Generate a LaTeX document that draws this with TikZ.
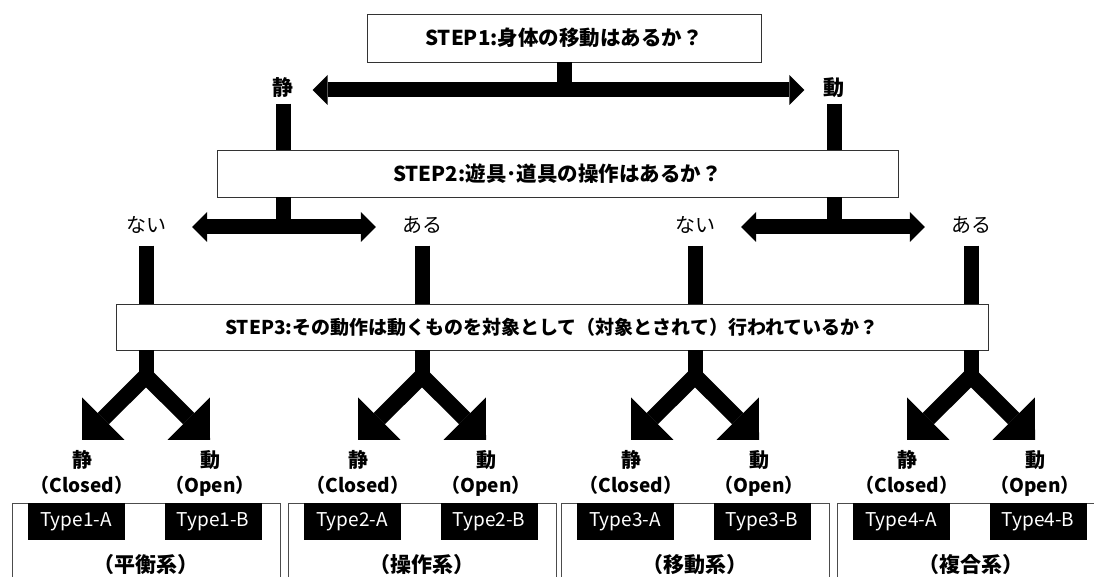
\documentclass[tikz,border=0pt]{standalone}
\usepackage{fontspec}
\setmainfont{Noto Sans CJK JP}
\usepackage{tikz}
\usetikzlibrary{calc}
\usetikzlibrary{arrows.meta}
\newcommand{\jsz}[1][19]{\fontsize{#1}{#1}\selectfont}
\tikzset{
 stepbox/.style={draw=black!80, line width=.8pt, fill=white, inner sep=0pt, font={\jsz[20.5]\bfseries}},
 lab/.style={inner xsep=0pt, inner ysep=4pt, text height=15pt, text depth=4pt, font={\jsz[20]\bfseries}},
 bar/.style={line width=15pt},
 twoway/.style={line width=15pt, {Triangle[width=30pt,length=15pt,line width=0pt]}-{Triangle[width=30pt,length=15pt,line width=0pt]}},
 fork/.style={line width=16pt, -{Triangle[width=60pt,length=30pt,line width=0pt]}},
 sysbox/.style={draw=black!70, line width=.8pt, minimum width=268pt, minimum height=110pt, anchor=north},
 typebox/.style={fill=black, text=white, minimum width=97pt, minimum height=37pt, inner sep=0pt, anchor=north, font=\jsz}
}

\begin{document}
\begin{tikzpicture}[x=1pt, y=-1pt]
\useasboundingbox (0,0) rectangle (1094,577);
\node[stepbox, minimum width=394pt, minimum height=48pt] (step1) at (564,38) {STEP1:身体の移動はあるか？};
\node[stepbox, minimum width=681pt, minimum height=47pt] (step2) at (557.5,173.5) {STEP2:遊具･道具の操作はあるか？};
\node[stepbox, minimum width=872pt, minimum height=46pt, font={\jsz[19]\bfseries}] (step3) at (552,327) {STEP3:その動作は動くものを対象として（対象とされて）行われているか？};
\node[lab, font={\jsz[21]\bfseries}, inner xsep=19pt] (sei) at (283,90) {静};
\node[lab, font={\jsz[21]\bfseries}, inner xsep=19pt] (dou) at (834,90) {動};
\draw[bar] (step1.south) -- (step1.south |- sei);
\draw[twoway] (sei.east) -- (dou.west);
\foreach \s in {sei,dou} {
 \draw[bar] (\s.south) -- (\s.south |- step2.north);
}
\foreach \x/\n/\q/\g in {146/1/ない/平衡系,422/2/ある/操作系,695/3/ない/移動系,971/4/ある/複合系} {
 \node[lab, font={\jsz[20]}, inner xsep=26pt, inner ysep=9pt] (q\n) at (\x,227) {\q};
 \draw[bar] (q\n.south) -- (q\n.south |- step3.north);
 \coordinate (k\n) at (\x,376);
 \draw[bar] (step3.south -| k\n) -- (k\n);
 \node[lab, inner ysep=12.5pt] (c\n) at (\x-64,462) {静};
 \node[lab, inner ysep=12.5pt] (o\n) at (\x+64,462) {動};
 \draw[fork] (k\n) -- (c\n.north);
 \draw[fork] (k\n) -- (o\n.north);
 \node[lab, font={\jsz[19]\bfseries}] (cl\n) at (\x-64,487) {（Closed）};
 \node[lab, font={\jsz[19]\bfseries}] (op\n) at (\x+64,487) {（Open）};
 \node[sysbox] (g\n) at (\x,503) {};
 \node[typebox] (ta\n) at (\x-70,503) {Type\n-A};
 \node[typebox] (tb\n) at (\x+67,503) {Type\n-B};
 \node[lab, font={\jsz[21]\bfseries}] (gl\n) at (\x,567) {（\g）};
}
\draw[bar] (sei |- step2.south) -- (sei |- q1);
\draw[bar] (dou |- step2.south) -- (dou |- q3);
\draw[twoway] (q1.east) -- (q2.west);
\draw[twoway] (q3.east) -- (q4.west);
\end{tikzpicture}
\end{document}
